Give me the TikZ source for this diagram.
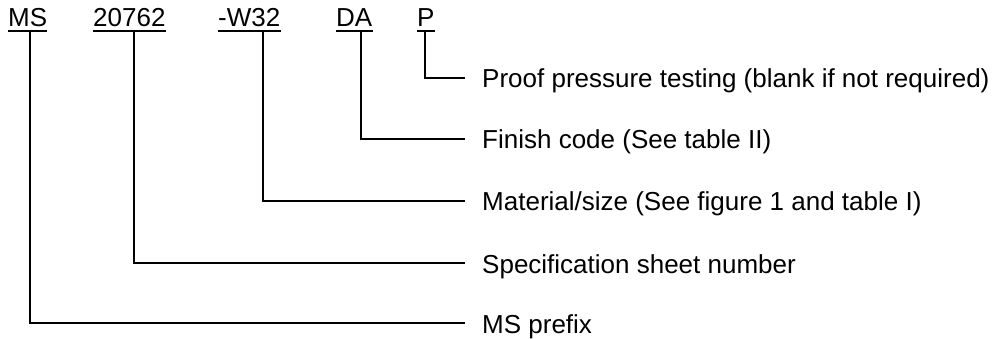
\documentclass[tikz,border=0pt]{standalone}
\usepackage{fontspec}
\setmainfont{Liberation Sans}
\begin{document}
\begin{tikzpicture}[x=1pt,y=-1pt,
  code/.style={inner sep=0pt,anchor=base west,font=\fontsize{26}{31}\selectfont},
  lbl/.style={inner sep=0pt,anchor=base west,font=\fontsize{26}{31}\selectfont},
  ln/.style={line width=1.3pt,black}]
\useasboundingbox (0,0) rectangle (1006,339);
% code parts
\node[code] (ms) at (8,27) {MS};
\node[code] (num) at (93,27) {20762};
\node[code] (w) at (218,27) {-W32};
\node[code] (da) at (336,27) {DA};
\node[code] (p) at (417,27) {P};
% underlines
\foreach \n in {ms,num,w,da,p}{
  \draw[ln] ([yshift=-4pt]\n.base west) -- ([yshift=-4pt]\n.base east);
}
% labels
\node[lbl] (lp) at (482,88) {Proof pressure testing (blank if not required)};
\node[lbl] (lda) at (482,149) {Finish code (See table II)};
\node[lbl] (lw) at (482,211) {Material/size (See figure 1 and table I)};
\node[lbl] (lnum) at (482,273) {Specification sheet number};
\node[lbl] (lms) at (482,333) {MS prefix};
% connector end points
\coordinate (sp) at (425,31);
\coordinate (sda) at (361,31);
\coordinate (sw) at (263,31);
\coordinate (snum) at (134,31);
\coordinate (sms) at (30,31);
\coordinate (ep) at (465,78);
\coordinate (eda) at (465,139);
\coordinate (ew) at (465,201);
\coordinate (enum) at (465,263);
\coordinate (ems) at (465,323);
\draw[ln] (sp) |- (ep);
\draw[ln] (sda) |- (eda);
\draw[ln] (sw) |- (ew);
\draw[ln] (snum) |- (enum);
\draw[ln] (sms) |- (ems);
\end{tikzpicture}
\end{document}
